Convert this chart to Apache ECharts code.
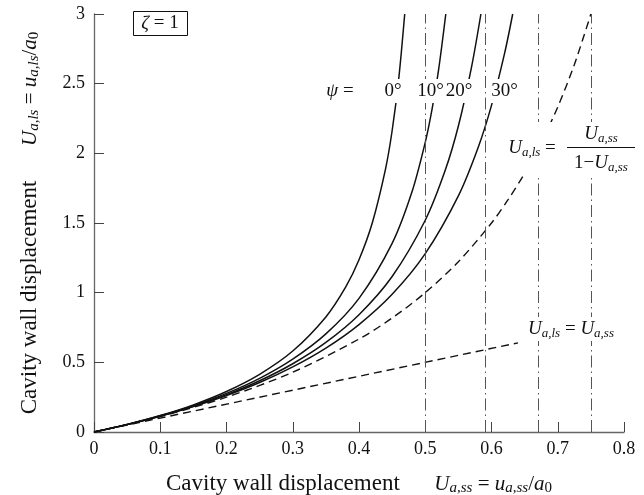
<!DOCTYPE html>
<html>
<head>
<meta charset="utf-8">
<script src="https://cdn.jsdelivr.net/npm/echarts@6/dist/echarts.min.js"></script>
<style>
  html, body { margin: 0; padding: 0; background: #fff; }
  #main { width: 644px; height: 495px; }
</style>
</head>
<body>
<div id="main"></div>
<script>
// values
var psi0X  = [0, 0.05, 0.1, 0.15, 0.2, 0.25, 0.3, 0.35, 0.38, 0.4, 0.42, 0.44, 0.45, 0.46, 0.469];
var psi0Y  = [0, 0.054, 0.118, 0.195, 0.291, 0.414, 0.581, 0.826, 1.041, 1.236, 1.5, 1.887, 2.162, 2.536, 3.0];
var psi10X = [0, 0.05, 0.1, 0.15, 0.2, 0.25, 0.3, 0.35, 0.4, 0.45, 0.48, 0.5, 0.51, 0.52, 0.531];
var psi10Y = [0, 0.054, 0.116, 0.189, 0.277, 0.385, 0.523, 0.704, 0.959, 1.354, 1.724, 2.079, 2.31, 2.595, 3.0];
var psi20X = [0, 0.05, 0.1, 0.15, 0.2, 0.25, 0.3, 0.35, 0.4, 0.45, 0.5, 0.53, 0.55, 0.57, 0.584];
var psi20Y = [0, 0.053, 0.114, 0.185, 0.268, 0.368, 0.49, 0.643, 0.842, 1.116, 1.52, 1.876, 2.196, 2.623, 3.0];
var psi30X = [0, 0.05, 0.1, 0.15, 0.2, 0.25, 0.3, 0.35, 0.4, 0.45, 0.5, 0.55, 0.58, 0.6, 0.62, 0.632];
var psi30Y = [0, 0.053, 0.113, 0.182, 0.262, 0.355, 0.467, 0.602, 0.771, 0.988, 1.28, 1.695, 2.044, 2.344, 2.723, 3.0];
var upperX = [0, 0.1, 0.2, 0.3, 0.4, 0.45, 0.5, 0.55, 0.6, 0.625, 0.65, 0.675, 0.7, 0.725, 0.75];
var upperY = [0, 0.111, 0.25, 0.429, 0.667, 0.818, 1.0, 1.222, 1.5, 1.667, 1.857, 2.077, 2.333, 2.636, 3.0];
var lowerX = [0, 0.64];
var lowerY = [0, 0.64];
var limitX = [0.5, 0.586, 0.667, 0.75];   // dash-dot verticals
var xTickLabels = ['0', '0.1', '0.2', '0.3', '0.4', '0.5', '0.6', '0.7', '0.8'];
var yTickLabels = ['0', '0.5', '1', '1.5', '2', '2.5', '3'];

var serif = '"Liberation Serif", "DejaVu Serif", serif';

function pairs(xs, ys) {
    return xs.map(function (x, i) { return [x, ys[i]]; });
}

var richAxis = {
    w: { fontFamily: serif, fontSize: 23, color: '#111', lineHeight: 24 },
    rm: { fontFamily: serif, fontSize: 21, color: '#111', lineHeight: 24 },
    it: { fontFamily: serif, fontSize: 21, fontStyle: 'italic', color: '#111', lineHeight: 24 },
    sub: { fontFamily: serif, fontSize: 15, fontStyle: 'italic', color: '#111', lineHeight: 15, verticalAlign: 'bottom' },
    sub0: { fontFamily: serif, fontSize: 15, color: '#111', lineHeight: 15, verticalAlign: 'bottom' }
};
var richG = {
    rm: { fontFamily: serif, fontSize: 19, fill: '#111', lineHeight: 22 },
    it: { fontFamily: serif, fontSize: 19, fontStyle: 'italic', fill: '#111', lineHeight: 22 },
    sub: { fontFamily: serif, fontSize: 13, fontStyle: 'italic', fill: '#111', lineHeight: 14, verticalAlign: 'bottom' }
};

function label(x, y, text, bg) {
    return {
        type: 'text', z: 100, x: x, y: y,
        style: {
            text: text, rich: richG, align: 'center', verticalAlign: 'middle',
            backgroundColor: bg ? '#fff' : null, padding: bg ? [1, 2] : 0
        }
    };
}

function solid(name, xs, ys) {
    return {
        name: name, type: 'line', data: pairs(xs, ys), showSymbol: false,
        smooth: 0.3, z: 3,
        lineStyle: { color: '#111', width: 1.5 }
    };
}

var chart = echarts.init(document.getElementById('main'));
chart.setOption({
    animation: false,
    backgroundColor: '#fff',
    grid: { left: 94, right: 20, top: 14, bottom: 63, outerBoundsMode: 'none', containLabel: false },
    xAxis: {
        type: 'value', min: 0, max: 0.8, interval: 0.1,
        name: '{w|Cavity wall displacement      }{it|U}{sub|a,ss}{rm| = }{it|u}{sub|a,ss}{rm|/}{it|a}{sub0|0}',
        nameLocation: 'middle', nameGap: 40,
        nameTextStyle: { rich: richAxis },
        axisLine: { lineStyle: { color: '#666', width: 1.3 } },
        axisTick: { inside: true, length: 10, lineStyle: { color: '#444' } },
        axisLabel: {
            margin: 8, fontFamily: serif, fontSize: 18, color: '#111',
            formatter: function (v) { return xTickLabels[Math.round(v * 10)]; }
        },
        splitLine: { show: false }
    },
    yAxis: {
        type: 'value', min: 0, max: 3, interval: 0.5,
        name: '{w|Cavity wall displacement      }{it|U}{sub|a,ls}{rm| = }{it|u}{sub|a,ls}{rm|/}{it|a}{sub0|0}',
        nameLocation: 'middle', nameGap: 52, nameRotate: 90,
        nameTextStyle: { rich: richAxis },
        axisLine: { show: true, lineStyle: { color: '#666', width: 1.3 } },
        axisTick: { show: true, inside: true, length: 10, lineStyle: { color: '#444' } },
        axisLabel: {
            margin: 9, fontFamily: serif, fontSize: 18, color: '#111',
            formatter: function (v) { return yTickLabels[Math.round(v * 2)]; }
        },
        splitLine: { show: false }
    },
    series: [
        {
            name: 'limits', type: 'line', data: [], z: 2,
            markLine: {
                silent: true, symbol: ['none', 'none'], label: { show: false },
                lineStyle: { color: '#555', width: 1, type: [12, 4, 1.5, 4] },
                data: limitX.map(function (v) { return { xAxis: v }; })
            }
        },
        solid('0', psi0X, psi0Y),
        solid('10', psi10X, psi10Y),
        solid('20', psi20X, psi20Y),
        solid('30', psi30X, psi30Y),
        {
            name: 'upper', type: 'line', data: pairs(upperX, upperY), showSymbol: false,
            smooth: 0.3, z: 3,
            lineStyle: { color: '#111', width: 1.4, type: [8, 5] }
        },
        {
            name: 'lower', type: 'line', data: pairs(lowerX, lowerY), showSymbol: false, z: 3,
            lineStyle: { color: '#111', width: 1.4, type: [8, 5] }
        }
    ],
    graphic: [
        { type: 'rect', z: 100, shape: { x: 133.5, y: 11.5, width: 54, height: 24 },
          style: { fill: '#fff', stroke: '#111', lineWidth: 1 } },
        label(160, 23.5, '{it|ζ}{rm| = 1}', false),
        label(340, 91, '{it|ψ}{rm| =}', true),
        label(393, 91, '{rm|0°}', true),
        label(430.5, 91, '{rm|10°}', true),
        label(459, 91, '{rm|20°}', true),
        label(504.5, 91, '{rm|30°}', true),
        { type: 'rect', z: 99, shape: { x: 503, y: 122, width: 135, height: 54 }, style: { fill: '#fff' } },
        label(532, 148, '{it|U}{sub|a,ls}{rm| =}', false),
        label(601, 134, '{it|U}{sub|a,ss}', false),
        { type: 'line', z: 100, shape: { x1: 567, y1: 147.5, x2: 635, y2: 147.5 }, style: { stroke: '#111', lineWidth: 1 } },
        label(601, 163, '{rm|1−}{it|U}{sub|a,ss}', false),
        label(571, 329, '{it|U}{sub|a,ls}{rm| = }{it|U}{sub|a,ss}', true)
    ]
});
</script>
</body>
</html>
